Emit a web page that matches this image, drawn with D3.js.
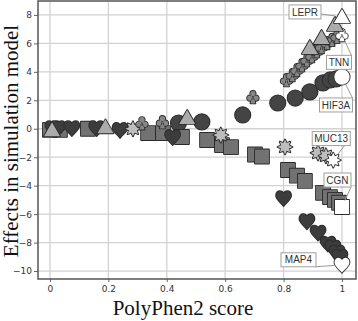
<!DOCTYPE html>
<html>
<head>
<meta charset="utf-8">
<script src="https://cdn.jsdelivr.net/npm/d3@7"></script>
<style>
  body { margin: 0; background: #fff; }
  svg { display: block; }
</style>
</head>
<body>
<div id="chart"></div>
<script>
// Chart size, that would be useful.
const CHART_WIDTH = 358;
const CHART_HEIGHT = 321;
const MARGIN = { left: 38, top: 1, right: 2, bottom: 42 };

// Axis ticks
const xTicks = [0, 0.2, 0.4, 0.6, 0.8, 1];
const yTicks = [-10, -8, -6, -4, -2, 0, 2, 4, 6, 8];

// Trajectories (last point = labelled gene)
const hif3aX = [0.44, 0.52, 0.66, 0.78, 0.84, 0.89, 0.935, 0.96, 0.98, 1.0];
const hif3aY = [0.4, 0.48, 0.97, 1.81, 2.16, 2.59, 3.22, 3.43, 3.5, 3.64];

const cgnX = [0, 0.034, 0.13, 0.336, 0.387, 0.452, 0.538, 0.589, 0.62, 0.702, 0.726, 0.815, 0.846, 0.873, 0.935, 0.959, 0.976, 0.99, 1.0];
const cgnY = [-0.08, -0.08, 0, -0.3, -0.3, -0.58, -0.79, -1.15, -1.29, -1.81, -1.95, -2.9, -3.3, -3.67, -4.5, -4.8, -5.0, -5.2, -5.5];

const map4X = [0.01, 0.027, 0.075, 0.16, 0.24, 0.42, 0.8, 0.88, 0.918, 0.952, 0.969, 0.983, 0.993, 1.0];
const map4Y = [0.05, 0.05, 0.05, 0.05, -0.08, -0.58, -4.87, -6.5, -7.3, -8.07, -8.35, -8.7, -9.0, -9.56];

const muc13X = [0.284, 0.585, 0.805, 0.918, 0.945, 0.97];
const muc13Y = [0, -0.44, -1.28, -1.7, -1.9, -2.2];

const tnnX = [0.315, 0.385, 0.695, 0.81, 0.83, 0.846, 0.863, 0.88, 0.897, 0.914, 0.93, 0.949, 0.966, 0.983, 1.0];
const tnnY = [0.4, 0.48, 2.24, 3.43, 3.79, 4.14, 4.49, 4.84, 5.12, 5.47, 5.76, 6.04, 6.26, 6.47, 6.6];

const leprX = [0.007, 0.19, 0.47, 0.89, 0.93, 0.976, 1.0];
const leprY = [-0.1, 0.1, 0.76, 5.68, 6.38, 7.3, 7.86];

const geneNames = ["HIF3A", "CGN", "MAP4", "MUC13", "TNN", "LEPR"];

// Shape paths, centred on 0,0
function circlePath (r) {
  return `M${r},0A${r},${r} 0 1,1 ${-r},0A${r},${r} 0 1,1 ${r},0Z`;
}
function dotPath (cx, cy, r) {
  return `M${cx + r},${cy}A${r},${r} 0 1,1 ${cx - r},${cy}A${r},${r} 0 1,1 ${cx + r},${cy}Z`;
}
function starPath (n, ro, ri) {
  let pts = [];
  for (let i = 0; i < n * 2; i++) {
    let a = Math.PI * i / n - Math.PI / 2;
    let r = i % 2 === 0 ? ro : ri;
    pts.push([r * Math.cos(a), r * Math.sin(a)]);
  }
  return "M" + pts.map(p => p[0].toFixed(2) + "," + p[1].toFixed(2)).join("L") + "Z";
}

const SHAPES = {
  circle: circlePath(7.7),
  square: "M-7,-7L7,-7L7,7L-7,7Z",
  heart: "M0,8C-2,5 -7.5,1.5 -7.5,-2.5C-7.5,-5.5 -5.5,-7 -3.8,-7C-2,-7 -0.6,-5.8 0,-4.5C0.6,-5.8 2,-7 3.8,-7C5.5,-7 7.5,-5.5 7.5,-2.5C7.5,1.5 2,5 0,8Z",
  star: starPath(8, 7.5, 4.2),
  club: dotPath(0, -3.3, 2.7) + dotPath(-3.1, 1.2, 2.7) + dotPath(3.1, 1.2, 2.7) + "M-0.8,0L-2.5,6.5L2.5,6.5L0.8,0Z",
  triangle: "M0,-8L8,6L-8,6Z"
};

const series = [
  { name: geneNames[0], shape: "circle", fill: "#444", xs: hif3aX, ys: hif3aY },
  { name: geneNames[1], shape: "square", fill: "#727272", xs: cgnX, ys: cgnY },
  { name: geneNames[2], shape: "heart", fill: "#3c3c3c", xs: map4X, ys: map4Y },
  { name: geneNames[3], shape: "star", fill: "#bdbdbd", xs: muc13X, ys: muc13Y },
  { name: geneNames[4], shape: "club", fill: "#868686", xs: tnnX, ys: tnnY },
  { name: geneNames[5], shape: "triangle", fill: "#ababab", xs: leprX, ys: leprY }
];

// Label box placement relative to the labelled point (pixels)
const LABEL_LAYOUT = {
  LEPR:  { dx: -37, dy: -5, w: 32, ax: 1, ay: 0.3 },
  TNN:   { dx: -3, dy: 27.5, w: 25, ax: 1, ay: -1 },
  HIF3A: { dx: -6, dy: 28, w: 33, ax: 1, ay: -1 },
  MUC13: { dx: -2, dy: -21.5, w: 38, ax: 0.7, ay: 1 },
  CGN:   { dx: -4.5, dy: -27, w: 27, ax: 1, ay: 1 },
  MAP4:  { dx: -43.5, dy: -5, w: 35, ax: 1, ay: 1 }
};

setup();

function setup () {
  const svg = d3.select("#chart").append("svg")
    .attr("width", CHART_WIDTH)
    .attr("height", CHART_HEIGHT);

  const xScale = d3.scaleLinear()
    .domain([-0.041, 1.048])
    .range([MARGIN.left, CHART_WIDTH - MARGIN.right]);
  const yScale = d3.scaleLinear()
    .domain([-10.56, 8.98])
    .range([CHART_HEIGHT - MARGIN.bottom, MARGIN.top]);

  // Grid lines
  const grid = svg.append("g").attr("stroke", "#d2d2d2").attr("stroke-width", 1.3);
  grid.selectAll("line.v").data(xTicks).enter().append("line")
    .attr("x1", d => xScale(d)).attr("x2", d => xScale(d))
    .attr("y1", MARGIN.top).attr("y2", CHART_HEIGHT - MARGIN.bottom);
  grid.selectAll("line.h").data(yTicks).enter().append("line")
    .attr("y1", d => yScale(d)).attr("y2", d => yScale(d))
    .attr("x1", MARGIN.left).attr("x2", CHART_WIDTH - MARGIN.right);

  // Axes
  const xAxis = d3.axisBottom(xScale).tickValues(xTicks).tickSize(3).tickPadding(4)
    .tickFormat(d => d3.format("~g")(d));
  const yAxis = d3.axisLeft(yScale).tickValues(yTicks).tickSize(4).tickPadding(2);

  const gx = svg.append("g")
    .attr("transform", "translate(0," + (CHART_HEIGHT - MARGIN.bottom) + ")")
    .call(xAxis);
  const gy = svg.append("g")
    .attr("transform", "translate(" + MARGIN.left + ",0)")
    .call(yAxis);
  [gx, gy].forEach(g => {
    g.select(".domain").remove();
    g.selectAll(".tick line").attr("stroke", "#666");
    g.selectAll(".tick text").attr("fill", "#333")
      .style("font-family", "'DejaVu Sans', sans-serif").style("font-size", "9px");
  });

  // Points
  series.forEach(s => {
    const pts = s.xs.map((x, i) => ({ x: x, y: s.ys[i], last: i === s.xs.length - 1 }));
    const g = svg.append("g").selectAll("g").data(pts).enter().append("g")
      .attr("transform", d => "translate(" + xScale(d.x) + "," + yScale(d.y) + ")");
    g.append("path").attr("d", SHAPES[s.shape])
      .attr("fill", "none").attr("stroke", "#2a2a2a").attr("stroke-width", 1.8)
      .attr("stroke-linejoin", "round");
    g.append("path").attr("d", SHAPES[s.shape])
      .attr("fill", d => d.last ? "#fff" : s.fill);
  });

  // Labels
  series.forEach(s => {
    const n = s.xs.length - 1;
    const px = xScale(s.xs[n]), py = yScale(s.ys[n]);
    const L = LABEL_LAYOUT[s.name];
    const h = 14;
    const cx = px + L.dx, cy = py + L.dy;
    const ax = cx + L.ax * L.w / 2, ay = cy + L.ay * h / 2;
    const dist = Math.hypot(px - ax, py - ay);
    const ex = px + (ax - px) * 7 / dist, ey = py + (ay - py) * 7 / dist;
    const lab = svg.append("g");
    lab.append("line")
      .attr("x1", ax).attr("y1", ay).attr("x2", ex).attr("y2", ey)
      .attr("stroke", "#999").attr("stroke-width", 1);
    lab.append("rect")
      .attr("x", cx - L.w / 2).attr("y", cy - h / 2)
      .attr("width", L.w).attr("height", h)
      .attr("fill", "#fff").attr("stroke", "#a0a0a0").attr("stroke-width", 1);
    lab.append("text")
      .attr("x", cx).attr("y", cy + 3.6)
      .attr("text-anchor", "middle")
      .style("font-family", "'Liberation Sans', Arial, sans-serif")
      .style("font-size", "10px").attr("fill", "#333")
      .text(s.name);
  });

  // Plot frame
  svg.append("rect")
    .attr("x", MARGIN.left).attr("y", MARGIN.top)
    .attr("width", CHART_WIDTH - MARGIN.left - MARGIN.right)
    .attr("height", CHART_HEIGHT - MARGIN.top - MARGIN.bottom)
    .attr("fill", "none").attr("stroke", "#555").attr("stroke-width", 1.5);

  // Axis titles
  svg.append("text")
    .attr("x", (xScale(0) + xScale(1)) / 2 - 13).attr("y", 315)
    .attr("text-anchor", "middle")
    .style("font-family", "'Liberation Serif', 'Times New Roman', serif")
    .style("font-size", "21px").attr("fill", "#111")
    .text("PolyPhen2 score");
  svg.append("text")
    .attr("transform", "translate(18,141) rotate(-90)")
    .attr("text-anchor", "middle")
    .style("font-family", "'Liberation Serif', 'Times New Roman', serif")
    .style("font-size", "21px").attr("fill", "#111")
    .text("Effects in simulation model");
}
</script>
</body>
</html>
